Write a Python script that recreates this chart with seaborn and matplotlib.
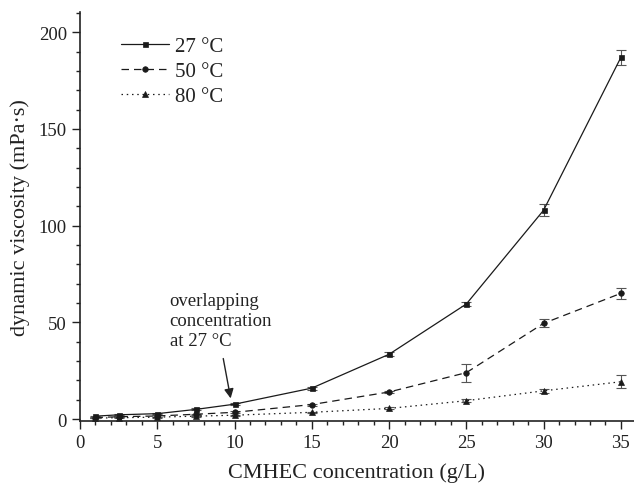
import matplotlib
matplotlib.use("Agg")
import matplotlib.pyplot as plt
import seaborn as sns
import pandas as pd
from matplotlib.ticker import MultipleLocator

conc = [1, 2.5, 5, 7.5, 10, 15, 20, 25, 30, 35]
visc_27 = [1.5, 2.2, 2.8, 5.0, 7.7, 16.0, 33.5, 59.5, 108.0, 187.0]
visc_50 = [0.8, 1.2, 1.6, 2.5, 3.5, 7.5, 14.0, 24.0, 49.5, 65.0]
visc_80 = [0.5, 0.7, 1.0, 1.5, 2.0, 3.5, 5.5, 9.5, 14.6, 19.3]
err_27 = [0.3, 0.3, 0.3, 0.5, 0.5, 0.8, 1.0, 1.2, 3.0, 4.0]
err_50 = [0.3, 0.3, 0.3, 0.3, 0.5, 0.5, 0.5, 4.7, 2.0, 3.0]
err_80 = [0.2, 0.2, 0.2, 0.3, 0.3, 0.4, 0.5, 0.7, 1.0, 3.3]
labels = ["27 °C", "50 °C", "80 °C"]

sns.set_style("ticks")
plt.rcParams["font.family"] = ["Liberation Serif", "DejaVu Serif"]

fig = plt.figure(figsize=(6.34, 4.85), dpi=100)
ax = fig.add_axes([80 / 634, 63 / 485, 554 / 634, 409 / 485])

series = [
    (visc_27, err_27, labels[0], "s", None, 3.6),
    (visc_50, err_50, labels[1], "o", (6, 4), 4.0),
    (visc_80, err_80, labels[2], "^", (1.2, 3), 4.4),
]

for vals, errs, lab, mk, dash, ms in series:
    df = pd.DataFrame({"x": conc, "y": vals})
    sns.lineplot(data=df, x="x", y="y", ax=ax, color="#1a1a1a", linewidth=0.9,
                 marker=mk, markersize=ms, markeredgewidth=0.5,
                 markeredgecolor="#1a1a1a", markerfacecolor="#1a1a1a",
                 label=lab, errorbar=None)
    ln = ax.lines[-1]
    if dash is not None:
        ln.set_dashes(dash)
    ax.errorbar(conc, vals, yerr=errs, fmt="none", ecolor="#555555",
                elinewidth=0.8, capsize=3.3, capthick=0.8, zorder=1)

ax.set_xlim(0, 35.85)
ax.set_ylim(-1, 210.5)
ax.xaxis.set_major_locator(MultipleLocator(5))
ax.xaxis.set_minor_locator(MultipleLocator(1))
ax.yaxis.set_major_locator(MultipleLocator(50))
ax.yaxis.set_minor_locator(MultipleLocator(10))
ax.tick_params(axis="both", which="major", direction="out", length=6, width=1.0,
               labelsize=13.5, color="#222222", labelcolor="#222222")
ax.tick_params(axis="both", which="minor", direction="out", length=3.2, width=1.0,
               color="#222222")
for s in ["top", "right"]:
    ax.spines[s].set_visible(False)
for s in ["left", "bottom"]:
    ax.spines[s].set_linewidth(1.2)
    ax.spines[s].set_color("#222222")

ax.set_xlabel("CMHEC concentration (g/L)", fontsize=16, color="#222222", labelpad=8)
ax.set_ylabel("dynamic viscosity (mPa·s)", fontsize=16, color="#222222", labelpad=6)

leg = ax.legend(loc="upper left", bbox_to_anchor=(0.04, 0.985), frameon=False,
                fontsize=15, handlelength=2.3, handletextpad=0.3, labelspacing=0.25,
                labelcolor="#222222")

ax.text(5.8, 51, "overlapping\nconcentration\nat 27 °C", fontsize=13.5,
        color="#222222", ha="left", va="center", linespacing=1.25)
ax.annotate("", xy=(9.75, 10.7), xytext=(9.27, 31.3),
            arrowprops=dict(arrowstyle="-|>", color="#222222", lw=1.0,
                            mutation_scale=14, shrinkA=0, shrinkB=0))

fig.savefig("out.png", dpi=100)
